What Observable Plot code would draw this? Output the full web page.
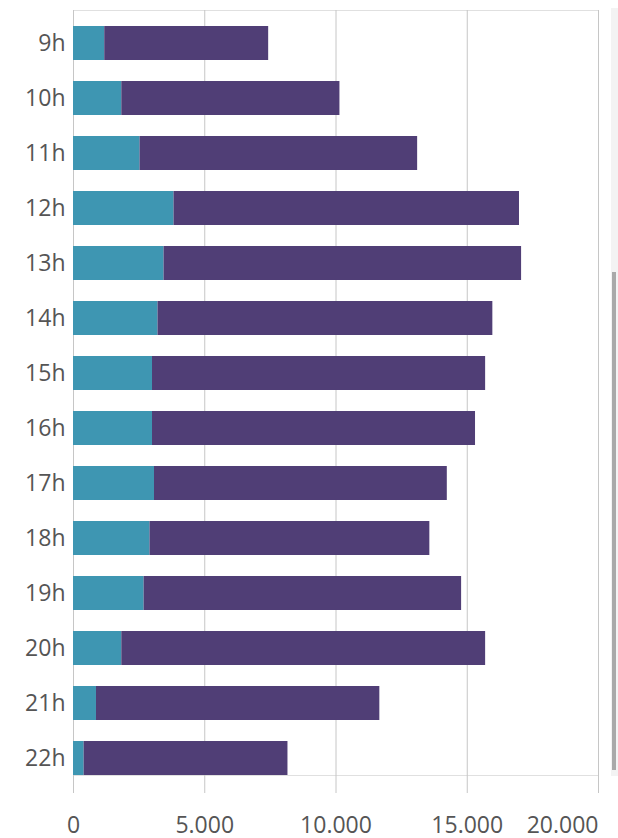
<!DOCTYPE html>
<html>
<head>
<meta charset="utf-8">
<script src="https://cdn.jsdelivr.net/npm/d3@7"></script>
<script src="https://cdn.jsdelivr.net/npm/@observablehq/plot@0.6"></script>
<style>
  html, body { margin: 0; padding: 0; background: #fff; }
  #wrap { position: relative; width: 618px; height: 838px; overflow: hidden; }
  #track { position: absolute; left: 611px; top: 8px; width: 7px; height: 768px; background: #f3f3f3; }
  #thumb { position: absolute; left: 612px; top: 272px; width: 4px; height: 498px; background: #a9a9a9; }
</style>
</head>
<body>
<div id="wrap"><div id="track"></div><div id="thumb"></div></div>
<script>
const hours = ["9h","10h","11h","12h","13h","14h","15h","16h","17h","18h","19h","20h","21h","22h"];
const seriesNames = ["A", "B"];
const seriesA = [1190, 1840, 2535, 3830, 3450, 3220, 3010, 3010, 3085, 2915, 2690, 1840, 875, 405];
const seriesB = [6245, 8310, 10575, 13160, 13620, 12755, 12690, 12305, 11155, 10660, 12095, 13860, 10795, 7765];
const xTicks = [0, 5000, 10000, 15000, 20000];
const colors = ["#3e96b2", "#503e76"];

const rows = [];
hours.forEach((h, i) => {
  rows.push({hour: h, series: seriesNames[0], value: seriesA[i]});
  rows.push({hour: h, series: seriesNames[1], value: seriesB[i]});
});

const fmt = d3.formatLocale({decimal: ",", thousands: ".", grouping: [3], currency: ["", ""]}).format(",");

const chart = Plot.plot({
  width: 618,
  height: 838,
  marginLeft: 73,
  marginRight: 20,
  marginTop: 10,
  marginBottom: 63,
  style: {fontFamily: "'Open Sans', sans-serif", fontSize: "23px", color: "#555", background: "transparent"},
  x: {domain: [0, 20000], label: null},
  y: {domain: hours, paddingInner: 0.39, paddingOuter: 0.028, align: 1, label: null},
  color: {domain: seriesNames, range: colors},
  marks: [
    Plot.frame({stroke: "#e0e0e0"}),
    Plot.gridX(xTicks, {stroke: "#c6c6c6", strokeOpacity: 1}),
    Plot.barX(rows, Plot.stackX({y: "hour", x: "value", fill: "series", order: null})),
    Plot.axisY({tickSize: 0, tickPadding: 8, fill: "#555", fontSize: 23, label: null}),
    Plot.axisX(xTicks.slice(0, -1), {tickSize: 18, tickPadding: 23, stroke: "#c6c6c6", fill: "#555", tickFormat: fmt, fontSize: 23, label: null}),
    Plot.axisX(xTicks.slice(-1), {tickSize: 18, tickPadding: 23, stroke: "#c6c6c6", fill: "#555", tickFormat: fmt, textAnchor: "end", fontSize: 23, label: null})
  ]
});
document.getElementById("wrap").prepend(chart);
</script>
</body>
</html>
